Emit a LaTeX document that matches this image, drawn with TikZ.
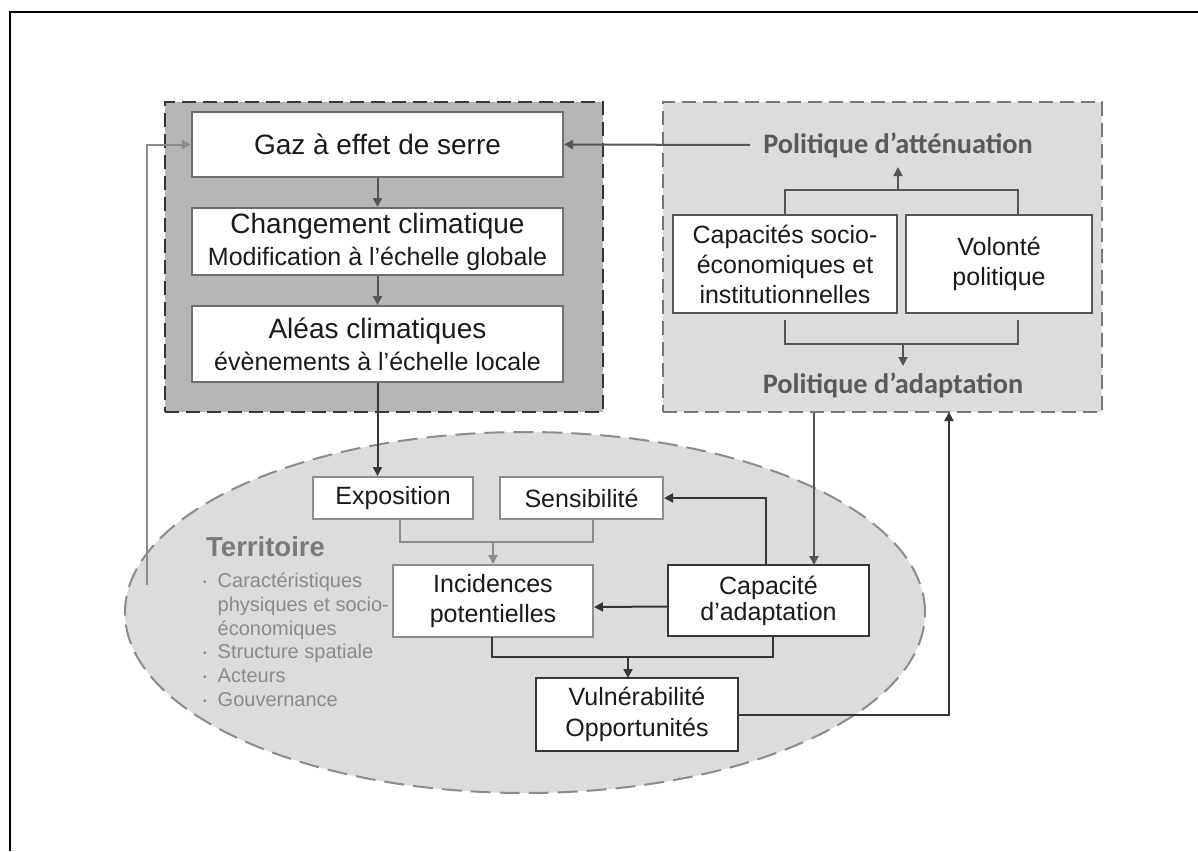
\documentclass[tikz,border=0pt]{standalone}
\usepackage{fontspec}
\setmainfont{Liberation Sans}
\newfontfamily\calib{Carlito}
\usetikzlibrary{arrows.meta,shapes.geometric,calc}
\definecolor{dboxfill}{HTML}{B5B5B5}
\definecolor{lboxfill}{HTML}{DCDCDC}
\definecolor{txt}{HTML}{1A1A1A}
\definecolor{poltxt}{HTML}{5A5A5A}
\definecolor{terrtxt}{HTML}{7A7A7A}
\definecolor{listtxt}{HTML}{8A8A8A}
\definecolor{ln}{HTML}{555555}
\definecolor{lnlight}{HTML}{8C8C8C}
\definecolor{lndark}{HTML}{363636}
\tikzset{
  arr/.style={-{Triangle[length=9pt,width=9pt]}, line width=2pt},
  boxbase/.style={draw, fill=white, line width=2pt, inner sep=0pt, align=center, text=txt},
  topbox/.style={boxbase, draw=ln!85},
  rbox/.style={boxbase, draw=ln},
  lightbox/.style={boxbase, draw=lnlight},
  darkbox/.style={boxbase, draw=lndark, line width=2.4pt},
  poltext/.style={inner sep=0pt, text=poltxt, font=\calib\bfseries\fontsize{28.3}{32}\selectfont},
}
\begin{document}
\begin{tikzpicture}[x=1pt,y=-1pt]
\useasboundingbox (0,0) rectangle (1198,851);
\fill[white] (0,0) rectangle (1198,851);
% outer frame
\draw[line width=2.5pt, black] (10,851) -- (10,12) -- (1198,12);

% territory ellipse
\node[ellipse, draw=lnlight, fill=lboxfill, line width=2pt, dash pattern=on 20pt off 9pt,
      minimum width=800, minimum height=361, inner sep=0pt] (terr) at (525,612.5) {};

% group boxes
\node[draw=lndark, fill=dboxfill, line width=2.5pt, dash pattern=on 14pt off 7pt,
      minimum width=438, minimum height=310, inner sep=0pt] (lb) at (384,257) {};
\node[draw=ln!80, fill=lboxfill, line width=2pt, dash pattern=on 14pt off 7pt,
      minimum width=439, minimum height=310, inner sep=0pt] (rb) at (882.5,257) {};

% left group
\node[topbox, minimum width=371, minimum height=65, font=\fontsize{28}{32}\selectfont] (gaz) at (377.5,144.5) {Gaz à effet de serre};
\node[topbox, minimum width=371, minimum height=67, font=\fontsize{25}{32}\selectfont] (chg) at (377.5,241.5)
  {{\fontsize{28}{32}\selectfont Changement climatique}\\Modification à l’échelle globale};
\node[topbox, minimum width=371, minimum height=76, font=\fontsize{25}{32}\selectfont] (ale) at (377.5,344)
  {{\fontsize{28}{32}\selectfont Aléas climatiques}\\évènements à l’échelle locale};

% right group
\node[poltext] (patt) at (898,145) {Politique d’atténuation};
\node[poltext] (padapt) at (893,385) {Politique d’adaptation};
\node[rbox, minimum width=224, minimum height=98, font=\fontsize{25}{30}\selectfont] (capsoc) at (785,264)
  {Capacités socio-\\économiques et\\institutionnelles};
\node[rbox, minimum width=186, minimum height=98, font=\fontsize{25}{30}\selectfont] (vol) at (999,264)
  {Volonté\\politique};

% territory content
\node[lightbox, minimum width=160, minimum height=42, font=\fontsize{25}{30}\selectfont] (expo) at (393,498) {Exposition};
\node[lightbox, minimum width=163, minimum height=42, font=\fontsize{25}{30}\selectfont] (sens) at (581.5,498) {Sensibilité};
\node[lightbox, minimum width=200, minimum height=72, font=\fontsize{25}{30}\selectfont] (inc) at (493,601) {Incidences\\potentielles};
\node[darkbox, minimum width=201, minimum height=71, font=\fontsize{25}{26}\selectfont] (cap) at (768.5,600.5) {Capacité\\d’adaptation};
\node[darkbox, minimum width=202, minimum height=73, font=\fontsize{25}{31}\selectfont] (vul) at (637,714.5) {Vulnérabilité\\Opportunités};

\node[anchor=west, inner sep=0pt, text=terrtxt, font=\bfseries\fontsize{27.5}{30}\selectfont] (terrlabel) at (206,547) {Territoire};
\node[anchor=north west, inner sep=0pt, text=listtxt, font=\fontsize{20}{23.7}\selectfont] (terrlist) at (203,571)
  {\begin{tabular}{@{}l@{\hspace{11pt}}l@{}}
   \raisebox{2pt}{\fontsize{10}{10}\selectfont •} & Caractéristiques\\
   & physiques et socio-\\
   & économiques\\
   \raisebox{2pt}{\fontsize{10}{10}\selectfont •} & Structure spatiale\\
   \raisebox{2pt}{\fontsize{10}{10}\selectfont •} & Acteurs\\
   \raisebox{2pt}{\fontsize{10}{10}\selectfont •} & Gouvernance
   \end{tabular}};

% coordinates for connectors
\coordinate (pattL) at (750,145);
\coordinate (bktL) at (785,190);
\coordinate (bktR) at (1018,190);
\coordinate (bktM) at (898,190);
\coordinate (pattB) at (898,167);
\coordinate (bkbL) at (785,320);
\coordinate (bkbR) at (1018,320);
\coordinate (bkbM) at (903,344);
\coordinate (padT) at (903,366);
\coordinate (fb) at (147,585);
\coordinate (esL) at (400,519);
\coordinate (esR) at (593,519);
\coordinate (esM) at (493,542);
\coordinate (capT) at (766,565);
\coordinate (icL) at (492,637);
\coordinate (icR) at (773,636);
\coordinate (icM) at (628,657);
\coordinate (vulT) at (628,678);
\coordinate (rbD) at (814,413);
\coordinate (capD) at (814,565);
\coordinate (rbU) at (949,412);

% left group arrows
\draw[arr, ln] (gaz) -- (chg);
\draw[arr, ln] (chg) -- (ale);
\draw[arr, lndark] (ale.south) -- (ale.south |- expo.north);
\draw[arr, ln] (pattL) -- (gaz.east);
\draw[arr, lnlight] (fb) |- (gaz.west);

% right group brackets
\draw[ln, line width=2pt] (bktL |- capsoc.north) -- (bktL) -- (bktR) -- (bktR |- vol.north);
\draw[arr, ln] (bktM) -- (pattB);
\draw[ln, line width=2pt] (bkbL) -- (bkbL |- bkbM) -- (bkbR |- bkbM) -- (bkbR);
\draw[arr, ln] (bkbM) -- (padT);

% territory connectors
\draw[lnlight, line width=2pt] (esL) -- (esL |- esM) -- (esR |- esM) -- (esR);
\draw[arr, lnlight] (esM) -- (inc.north);
\draw[arr, lndark] (capT) |- (sens.east);
\draw[arr, lndark] ([yshift=-6pt]cap.west) -- ([yshift=-6pt]inc.east);
\draw[lndark, line width=2pt] (icL) -- (icL |- icM) -- (icR |- icM) -- (icR);
\draw[arr, lndark] (icM) -- (vulT);
\draw[arr, ln] (rbD) -- (capD);
\draw[arr, lndark] (vul.east) -| (rbU);
\end{tikzpicture}
\end{document}
